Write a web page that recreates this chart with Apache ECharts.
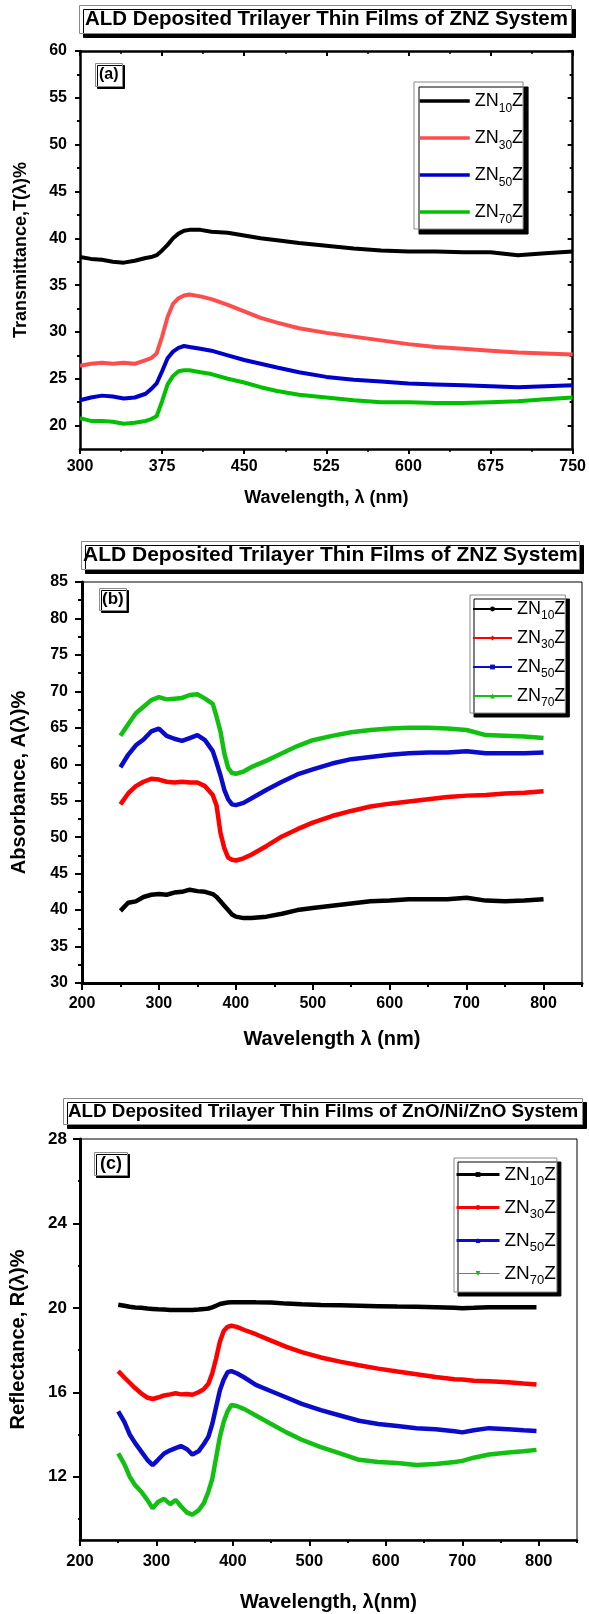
<!DOCTYPE html>
<html>
<head>
<meta charset="utf-8">
<script src="https://cdn.jsdelivr.net/npm/echarts@6/dist/echarts.min.js"></script>
<style>
  html, body { margin: 0; padding: 0; background: #fff; }
  #chart { width: 589px; height: 1614px; }
</style>
</head>
<body>
<div id="chart"></div>
<script>
const FONT = "'Liberation Sans', Arial, sans-serif";
const NAMES = ['ZN10Z', 'ZN30Z', 'ZN50Z', 'ZN70Z'];

// (a) transmittance T(λ)%
const wlA = [300, 310, 320, 330, 340, 350, 360, 365, 370, 375, 380, 385, 390, 395, 400, 410, 420, 435, 450, 465, 480, 500, 525, 550, 575, 600, 625, 650, 675, 700, 725, 750];
const tZN10 = [38.0, 37.8, 37.7, 37.5, 37.4, 37.6, 37.9, 38.0, 38.2, 38.7, 39.3, 40.0, 40.5, 40.8, 40.9, 40.9, 40.7, 40.6, 40.3, 40.0, 39.8, 39.5, 39.2, 38.9, 38.7, 38.6, 38.6, 38.5, 38.5, 38.2, 38.4, 38.6];
const tZN30 = [26.4, 26.6, 26.7, 26.6, 26.7, 26.6, 27.0, 27.2, 27.7, 29.5, 31.6, 33.0, 33.6, 33.9, 34.0, 33.8, 33.5, 32.9, 32.2, 31.5, 31.0, 30.4, 29.9, 29.5, 29.1, 28.7, 28.4, 28.2, 28.0, 27.8, 27.7, 27.6];
const tZN50 = [22.7, 23.0, 23.2, 23.1, 22.9, 23.0, 23.4, 23.9, 24.5, 25.8, 27.2, 27.9, 28.3, 28.5, 28.4, 28.2, 28.0, 27.5, 27.0, 26.6, 26.2, 25.7, 25.2, 24.9, 24.7, 24.5, 24.4, 24.3, 24.2, 24.1, 24.2, 24.3];
const tZN70 = [20.8, 20.5, 20.5, 20.4, 20.2, 20.3, 20.5, 20.7, 21.0, 22.6, 24.4, 25.3, 25.8, 25.9, 25.9, 25.7, 25.5, 25.0, 24.6, 24.1, 23.7, 23.3, 23.0, 22.7, 22.5, 22.5, 22.4, 22.4, 22.5, 22.6, 22.8, 23.0];

// (b) absorbance A(λ)%
const wlB = [250, 260, 270, 280, 290, 300, 310, 320, 330, 340, 350, 360, 370, 375, 380, 385, 390, 395, 400, 410, 420, 440, 460, 480, 500, 525, 550, 575, 600, 625, 650, 675, 700, 725, 750, 775, 800];
const aZN10 = [39.9, 41.0, 41.2, 41.8, 42.1, 42.2, 42.1, 42.4, 42.5, 42.8, 42.6, 42.5, 42.2, 41.8, 41.2, 40.6, 40.0, 39.4, 39.1, 38.9, 38.9, 39.1, 39.5, 40.0, 40.3, 40.6, 40.9, 41.2, 41.3, 41.5, 41.5, 41.5, 41.7, 41.3, 41.2, 41.3, 41.5];
const aZN30 = [54.5, 56.0, 57.0, 57.6, 58.0, 57.9, 57.6, 57.5, 57.6, 57.5, 57.5, 57.0, 55.8, 54.3, 50.6, 48.5, 47.2, 46.9, 46.8, 47.1, 47.6, 48.8, 50.1, 51.1, 52.0, 52.9, 53.6, 54.2, 54.6, 54.9, 55.2, 55.5, 55.7, 55.8, 56.0, 56.1, 56.3];
const aZN50 = [59.6, 61.3, 62.6, 63.4, 64.5, 64.9, 63.9, 63.5, 63.2, 63.6, 64.0, 63.3, 61.8, 60.2, 58.5, 56.5, 55.2, 54.5, 54.4, 54.7, 55.3, 56.5, 57.6, 58.6, 59.3, 60.1, 60.7, 61.0, 61.3, 61.5, 61.6, 61.6, 61.8, 61.5, 61.5, 61.5, 61.6];
const aZN70 = [63.9, 65.5, 67.0, 67.9, 68.8, 69.2, 68.9, 69.0, 69.1, 69.5, 69.6, 69.0, 68.3, 66.5, 64.5, 61.5, 59.5, 58.8, 58.7, 59.0, 59.6, 60.5, 61.5, 62.5, 63.3, 63.9, 64.4, 64.7, 64.9, 65.0, 65.0, 64.9, 64.7, 64.0, 63.9, 63.8, 63.6];

// (c) reflectance R(λ)%
const wlC = [250, 258, 265, 272, 280, 288, 295, 302, 310, 318, 325, 332, 340, 347, 355, 362, 368, 373, 378, 383, 388, 393, 398, 405, 415, 430, 450, 470, 490, 515, 540, 565, 590, 615, 640, 665, 690, 700, 715, 735, 760, 780, 797];
const rZN10 = [20.15, 20.1, 20.05, 20.02, 20.0, 19.97, 19.95, 19.93, 19.92, 19.9, 19.9, 19.9, 19.9, 19.9, 19.92, 19.94, 19.97, 20.02, 20.1, 20.18, 20.22, 20.25, 20.26, 20.27, 20.27, 20.26, 20.25, 20.2, 20.17, 20.14, 20.12, 20.1, 20.08, 20.06, 20.05, 20.03, 20.0, 19.98, 20.0, 20.03, 20.03, 20.03, 20.03];
const rZN30 = [17.0, 16.7, 16.45, 16.2, 15.95, 15.75, 15.68, 15.75, 15.85, 15.9, 15.95, 15.9, 15.92, 15.88, 16.0, 16.15, 16.4, 16.9, 17.6, 18.4, 18.9, 19.1, 19.15, 19.1, 18.95, 18.75, 18.45, 18.15, 17.9, 17.65, 17.45, 17.28, 17.12, 16.98, 16.85, 16.72, 16.62, 16.6, 16.55, 16.52, 16.48, 16.42, 16.37];
const rZN50 = [15.1, 14.6, 14.0, 13.6, 13.2, 12.8, 12.55, 12.8, 13.1, 13.25, 13.35, 13.45, 13.3, 13.05, 13.2, 13.55, 13.9, 14.5, 15.3, 16.1, 16.6, 16.95, 17.0, 16.9, 16.7, 16.35, 16.05, 15.75, 15.45, 15.15, 14.9, 14.65, 14.5, 14.4, 14.3, 14.25, 14.15, 14.1, 14.2, 14.3, 14.25, 14.2, 14.17];
const rZN70 = [13.1, 12.6, 12.0, 11.6, 11.3, 10.9, 10.5, 10.8, 10.95, 10.7, 10.9, 10.6, 10.3, 10.2, 10.4, 10.75, 11.3, 11.9, 12.9, 13.9, 14.6, 15.1, 15.4, 15.35, 15.2, 14.9, 14.5, 14.1, 13.75, 13.4, 13.1, 12.8, 12.7, 12.65, 12.55, 12.6, 12.7, 12.75, 12.9, 13.05, 13.15, 13.2, 13.27];

// tick values
const yTicksA = [20, 25, 30, 35, 40, 45, 50, 55, 60];
const yMinorA = [22.5, 27.5, 32.5, 37.5, 42.5, 47.5, 52.5, 57.5];
const xTicksBC = [200, 300, 400, 500, 600, 700, 800];
const xMinorBC = [250, 350, 450, 550, 650, 750, 850];
const yTicksC = [12, 16, 20, 24, 28];
const yMinorC = [10, 14, 18, 22, 26];

const pairs = (wl, v) => wl.map((w, i) => [w, v[i]]);

const chart = echarts.init(document.getElementById('chart'));

const lbl = (size, margin) => ({ color: '#000', fontFamily: FONT, fontWeight: 'bold', fontSize: size, margin });
const nameStyle = size => ({ color: '#000', fontFamily: FONT, fontWeight: 'bold', fontSize: size });
const line = w => ({ onZero: false, lineStyle: { color: '#000', width: w } });
const tick = (len, inside, values) => ({ show: true, length: len, inside: !!inside, customValues: values, lineStyle: { color: '#000', width: 2 } });
const noLbl = { show: false };
const noSplit = { show: false };

const xAxis = [
  // (a)
  { gridIndex: 0, type: 'value', min: 300, max: 750, interval: 75, axisLine: line(2.5),
    axisTick: { length: 5, lineStyle: { color: '#000', width: 2 } },
    minorTick: { show: true, splitNumber: 2, length: 3, lineStyle: { color: '#000', width: 1.5 } },
    axisLabel: lbl(16, 10), splitLine: noSplit,
    name: 'Wavelength, λ (nm)', nameLocation: 'middle', nameGap: 40, nameTextStyle: nameStyle(18) },
  { gridIndex: 0, type: 'value', position: 'top', min: 300, max: 750, interval: 75, axisLine: line(2.5),
    axisTick: { inside: true, length: 5, lineStyle: { color: '#000', width: 2 } },
    minorTick: { show: true, splitNumber: 2, length: 3, lineStyle: { color: '#000', width: 1.5 } },
    axisLabel: noLbl, splitLine: noSplit },
  // (b)
  { gridIndex: 1, type: 'value', min: 200, max: 850, axisLine: line(3), axisTick: tick(7, false, xTicksBC),
    axisLabel: Object.assign(lbl(16, 13), { customValues: xTicksBC }), splitLine: noSplit,
    name: 'Wavelength λ (nm)', nameLocation: 'middle', nameGap: 46, nameTextStyle: nameStyle(20) },
  { gridIndex: 1, type: 'value', position: 'bottom', min: 200, max: 850, axisLine: { show: false },
    axisTick: tick(4, false, xMinorBC), axisLabel: noLbl, splitLine: noSplit },
  // (c)
  { gridIndex: 2, type: 'value', min: 200, max: 850, axisLine: line(2.5), axisTick: tick(6, false, xTicksBC),
    axisLabel: Object.assign(lbl(16.5, 13), { customValues: xTicksBC }), splitLine: noSplit,
    name: 'Wavelength, λ(nm)', nameLocation: 'middle', nameGap: 52, nameTextStyle: nameStyle(20) },
  { gridIndex: 2, type: 'value', position: 'bottom', min: 200, max: 850, axisLine: { show: false },
    axisTick: tick(3, false, xMinorBC), axisLabel: noLbl, splitLine: noSplit }
];

const yAxis = [
  // (a)
  { gridIndex: 0, type: 'value', position: 'left', min: 17.5, max: 60, axisLine: line(2.5),
    axisTick: tick(5, false, yTicksA), axisLabel: Object.assign(lbl(16, 13), { customValues: yTicksA }), splitLine: noSplit,
    name: 'Transmittance,T(λ)%', nameLocation: 'middle', nameRotate: 90, nameGap: 50, nameTextStyle: nameStyle(18) },
  { gridIndex: 0, type: 'value', position: 'left', min: 17.5, max: 60, axisLine: { show: false },
    axisTick: tick(3, false, yMinorA), axisLabel: noLbl, splitLine: noSplit },
  { gridIndex: 0, type: 'value', position: 'right', min: 17.5, max: 60, axisLine: line(2.5),
    axisTick: tick(5, true, yTicksA), axisLabel: noLbl, splitLine: noSplit },
  { gridIndex: 0, type: 'value', position: 'right', min: 17.5, max: 60, axisLine: { show: false },
    axisTick: tick(3, true, yMinorA), axisLabel: noLbl, splitLine: noSplit },
  // (b)
  { gridIndex: 1, type: 'value', position: 'left', min: 30, max: 85, interval: 5, axisLine: line(3),
    axisTick: { length: 7, lineStyle: { color: '#000', width: 2 } },
    minorTick: { show: true, splitNumber: 2, length: 4, lineStyle: { color: '#000', width: 2 } },
    axisLabel: lbl(16, 14), splitLine: noSplit,
    name: 'Absorbance, A(λ)%', nameLocation: 'middle', nameRotate: 90, nameGap: 53, nameTextStyle: nameStyle(20) },
  // (c)
  { gridIndex: 2, type: 'value', position: 'left', min: 9, max: 28, axisLine: line(3),
    axisTick: tick(7, false, yTicksC), axisLabel: Object.assign(lbl(17, 13), { customValues: yTicksC }), splitLine: noSplit,
    name: 'Reflectance, R(λ)%', nameLocation: 'middle', nameRotate: 90, nameGap: 52, nameTextStyle: nameStyle(20) },
  { gridIndex: 2, type: 'value', position: 'left', min: 9, max: 28, axisLine: { show: false },
    axisTick: tick(2, false, yMinorC), axisLabel: noLbl, splitLine: noSplit }
];

const colorsA = ['#000000', '#ff4d4d', '#0000cc', '#00c000'];
const colorsBC = ['#000000', '#ff0000', '#0b0bcc', '#11c011'];
const symB = ['circle', 'diamond', 'rect', 'triangle'];
const symC = ['rect', 'circle', 'triangle', 'triangle'];

function mk(panel, idx, x, y, wl, vals, color, width, symbol, rotate) {
  return {
    name: panel + ' ' + NAMES[idx], type: 'line', xAxisIndex: x, yAxisIndex: y,
    data: pairs(wl, vals), symbol: symbol, symbolRotate: rotate || 0, showSymbol: false,
    lineStyle: { color, width }, itemStyle: { color }, animation: false, z: 3
  };
}

const series = [
  mk('a', 0, 0, 0, wlA, tZN10, colorsA[0], 4, 'none'),
  mk('a', 1, 0, 0, wlA, tZN30, colorsA[1], 4, 'none'),
  mk('a', 2, 0, 0, wlA, tZN50, colorsA[2], 4, 'none'),
  mk('a', 3, 0, 0, wlA, tZN70, colorsA[3], 4, 'none'),
  mk('b', 0, 2, 4, wlB, aZN10, colorsBC[0], 4.5, symB[0]),
  mk('b', 1, 2, 4, wlB, aZN30, colorsBC[1], 4.5, symB[1]),
  mk('b', 2, 2, 4, wlB, aZN50, colorsBC[2], 4.5, symB[2]),
  mk('b', 3, 2, 4, wlB, aZN70, colorsBC[3], 4.5, symB[3]),
  mk('c', 0, 4, 5, wlC, rZN10, colorsBC[0], 4.5, symC[0]),
  mk('c', 1, 4, 5, wlC, rZN30, colorsBC[1], 4.5, symC[1]),
  mk('c', 2, 4, 5, wlC, rZN50, colorsBC[2], 4.5, symC[2]),
  mk('c', 3, 4, 5, wlC, rZN70, colorsBC[3], 4.5, symC[3], 180)
];

// legend text with subscripts, e.g. ZN₁₀Z
function legendRich(size, sub, drop) {
  return {
    color: '#000', fontFamily: FONT, fontSize: size,
    rich: {
      m: { fontFamily: FONT, fontSize: size, lineHeight: 18, color: '#000' },
      s: { fontFamily: FONT, fontSize: sub, lineHeight: 8, padding: [drop * 2, 0, 0, 0], color: '#000' }
    }
  };
}
const fmt = name => {
  const n = name.split(' ')[1].match(/^ZN(\d+)Z$/)[1];
  return '{m|ZN}{s|' + n + '}{m|Z}';
};
const boxStyle = off => ({
  backgroundColor: '#fff', borderColor: '#8a8a8a', borderWidth: 1,
  shadowColor: '#000', shadowBlur: 0, shadowOffsetX: off, shadowOffsetY: off
});

const legend = [
  Object.assign({
    orient: 'vertical', left: 414, top: 82, padding: [5, 0, 3, 4], itemWidth: 50, itemHeight: 4, itemGap: 9,
    data: NAMES.map(n => 'a ' + n), formatter: fmt, textStyle: legendRich(18, 12, 8),
    lineStyle: { width: 3.5 }, itemStyle: { opacity: 0 }, selectedMode: false
  }, boxStyle(5)),
  Object.assign({
    orient: 'vertical', left: 470, top: 595, padding: [1, 0, 4, 2], itemWidth: 39, itemHeight: 6, itemGap: 3,
    data: NAMES.map(n => 'b ' + n), formatter: fmt, textStyle: legendRich(18, 12, 7),
    lineStyle: { width: 2 }, selectedMode: false
  }, boxStyle(4)),
  Object.assign({
    orient: 'vertical', left: 454, top: 1158, padding: [3, 1, 5, 1], itemWidth: 43, itemHeight: 6, itemGap: 6,
    data: NAMES.map((n, i) => i === 3 ? { name: 'c ' + n, lineStyle: { width: 1 } } : 'c ' + n),
    formatter: fmt, textStyle: legendRich(19, 13, 7),
    lineStyle: { width: 3 }, selectedMode: false
  }, boxStyle(4))
];

const ttl = (text, left, top, size, pad, off) => Object.assign({
  text, left, top, padding: pad, itemGap: 0,
  textStyle: { color: '#000', fontFamily: FONT, fontWeight: 'bold', fontSize: size }
}, boxStyle(off));

const title = [
  ttl('ALD Deposited Trilayer Thin Films of ZNZ System', 79, 5, 20.5, [4, 4, 4, 6], 4),
  ttl('ALD Deposited Trilayer Thin Films of ZNZ System', 81, 541, 21, [4, 2, 4, 2], 4),
  ttl('ALD Deposited Trilayer Thin Films of ZnO/Ni/ZnO System', 63, 1098, 18.8, [4, 4, 4, 5], 4),
  ttl('(a)', 95, 63, 16, [4, 4, 4, 4], 2),
  ttl('(b)', 99, 588, 17, [3, 3, 3, 3], 2),
  ttl('(c)', 94, 1152, 18, [3, 6, 3, 6], 2)
];

chart.setOption({
  animation: false,
  backgroundColor: '#fff',
  title,
  legend,
  grid: [
    { left: 80, right: 14, top: 51, bottom: 1614 - 449 },
    { left: 82, right: 7, top: 582, bottom: 1614 - 983, show: true, borderColor: '#000', borderWidth: 1 },
    { left: 79, right: 12, top: 1139, bottom: 1614 - 1540, show: true, borderColor: '#000', borderWidth: 1 }
  ],
  xAxis,
  yAxis,
  series
});
</script>
</body>
</html>
